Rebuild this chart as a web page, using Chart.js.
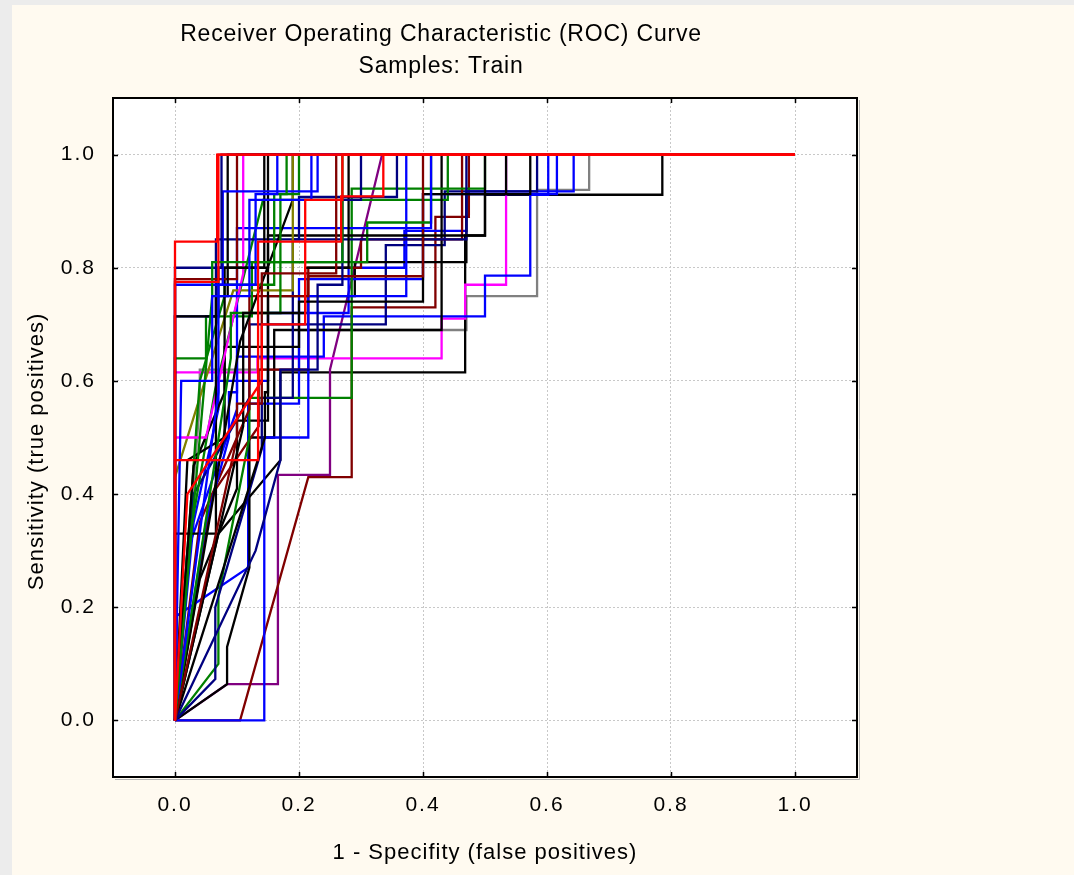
<!DOCTYPE html>
<html>
<head>
<meta charset="utf-8">
<title>ROC Curve</title>
<script src="https://cdn.jsdelivr.net/npm/chart.js@4.4.1/dist/chart.umd.min.js"></script>
<style>
  html, body { margin: 0; padding: 0; }
  body { width: 1074px; height: 875px; background: #ececec; position: relative; overflow: hidden; }
  #panel { position: absolute; left: 12px; top: 5px; right: 0; bottom: 0; background: #fffaf0; }
  #roc { position: absolute; left: 0; top: 0; }
</style>
</head>
<body>
<div id="panel"></div>
<canvas id="roc" width="1074" height="875"></canvas>
<script>
// one ROC curve per model, listed bottom layer first (the last one ends up on top)
const rocColors = [
  '#808080', '#000000', '#800080', '#800000', '#ff00ff', '#0000ff', '#0000ff', '#000080',
  '#000000', '#008000', '#0000ff', '#000000', '#800000', '#008000', '#0000ff', '#000080',
  '#000000', '#800000', '#008000', '#000000', '#0000ff', '#000080', '#000000', '#808000',
  '#008000', '#000000', '#ff00ff', '#800000', '#000000', '#000000', '#0000ff', '#000080',
  '#008000', '#0000ff', '#000000', '#000080', '#800000', '#008000', '#0000ff', '#ff0000',
  '#ff0000', '#ff0000', '#ff0000'
];

// false positive rate (1 - specificity) of each curve
const rocFpr = [
  [0, 0.04, 0.04, 0.2, 0.2, 0.47, 0.47, 0.584, 0.584, 0.668, 0.668, 1],
  [0, 0.07, 0.17, 0.17, 0.468, 0.468, 0.5, 0.5, 0.786, 0.786, 1],
  [0, 0.084, 0.166, 0.166, 0.25, 0.25, 0.334, 1],
  [0, 0.105, 0.215, 0.285, 0.285, 0.42, 0.42, 0.474, 0.474, 1],
  [0, 0, 0.133, 0.133, 0.43, 0.43, 0.468, 0.468, 0.534, 0.534, 1],
  [0, 0.02, 0.1, 0.1, 0.24, 0.24, 0.5, 0.5, 0.573, 0.573, 0.602, 0.602, 1],
  [0, 0.03, 0.07, 0.07, 0.15, 0.15, 0.28, 0.28, 0.37, 0.37, 0.47, 0.47, 0.643, 0.643, 1],
  [0, 0.03, 0.12, 0.12, 0.34, 0.34, 0.435, 0.435, 0.584, 0.584, 1],
  [0, 0.04, 0.1, 0.1, 0.15, 0.15, 0.29, 0.29, 0.47, 0.47, 0.534, 0.534, 1],
  [0, 0.02, 0.065, 0.142, 0.44, 0.44, 1],
  [0, 0.003, 0.118, 0.118, 0.2, 0.2, 0.4, 0.4, 0.616, 0.616, 1],
  [0, 0.084, 0.084, 0.12, 0.12, 0.16, 0.16, 0.43, 0.43, 1],
  [0, 0.06, 0.135, 0.135, 0.215, 0.215, 0.3, 0.3, 0.463, 0.463, 1],
  [0, 0.07, 0.07, 0.12, 0.12, 0.285, 0.285, 0.5, 0.5, 1],
  [0, 0.144, 0.144, 0.215, 0.215, 0.373, 0.373, 1],
  [0, 0.065, 0.065, 0.14, 0.14, 0.19, 0.19, 0.47, 0.47, 1],
  [0, 0.02, 0.08, 0.08, 0.2, 0.2, 0.4, 0.4, 0.573, 0.573, 1],
  [0, 0.04, 0.12, 0.12, 0.215, 0.215, 0.4, 0.4, 1],
  [0, 0, 0.05, 0.05, 0.124, 0.124, 0.31, 0.31, 0.413, 0.413, 1],
  [0, 0.145, 0.145, 0.15, 0.15, 0.5, 0.5, 1],
  [0, 0.05, 0.087, 0.087, 0.1, 0.1, 0.413, 0.413, 1],
  [0, 0, 0.066, 0.066, 0.2, 0.2, 0.358, 0.358, 1],
  [0, 0.105, 0.19, 0.19, 1],
  [0, 0, 0.094, 0.19, 0.19, 1],
  [0, 0.04, 0.08, 0.08, 0.16, 0.16, 0.2, 0.2, 1],
  [0, 0.03, 0.08, 0.08, 0.144, 0.144, 1],
  [0, 0, 0.05, 0.11, 0.11, 1],
  [0, 0, 0.1, 0.1, 1],
  [0, 0, 0.066, 0.066, 0.085, 0.085, 1],
  [0, 0, 0.07, 0.07, 0.15, 0.15, 1],
  [0, 0, 0.077, 0.077, 0.23, 0.23, 1],
  [0, 0, 0.075, 0.075, 1],
  [0, 0.09, 0.09, 0.17, 0.17, 0.18, 0.18, 1],
  [0, 0.07, 0.07, 0.13, 0.13, 0.165, 0.165, 1],
  [0, 0.11, 0.11, 0.21, 0.21, 0.28, 0.28, 1],
  [0, 0.13, 0.17, 0.17, 0.23, 0.23, 0.27, 0.27, 0.3, 0.3, 1],
  [0, 0.1, 0.1, 0.14, 0.14, 0.26, 0.26, 1],
  [0, 0.06, 0.06, 0.27, 0.27, 1],
  [0, 0.01, 0.06, 0.06, 0.12, 0.12, 0.22, 0.22, 1],
  [0, 0.02, 0.14, 0.14, 0.21, 0.21, 0.27, 0.27, 1],
  [0, 0, 0.07, 0.07, 1],
  [0, 0, 0.134, 0.134, 0.268, 0.268, 0.336, 0.336, 1],
  [0, 0, 0.068, 0.068, 1]
];

// true positive rate (sensitivity) of each curve
const rocTpr = [
  [0, 0.56, 0.62, 0.62, 0.69, 0.69, 0.75, 0.75, 0.9375, 0.9375, 1, 1],
  [0, 0.33, 0.46, 0.615, 0.615, 0.857, 0.857, 0.929, 0.929, 1, 1],
  [0, 0.064, 0.064, 0.434, 0.434, 0.62, 1, 1],
  [0, 0, 0.43, 0.43, 0.73, 0.73, 0.89, 0.89, 1, 1],
  [0, 0.615, 0.615, 0.64, 0.64, 0.71, 0.71, 0.77, 0.77, 1, 1],
  [0, 0.3, 0.55, 0.643, 0.643, 0.714, 0.714, 0.786, 0.786, 0.929, 0.929, 1, 1],
  [0, 0.35, 0.55, 0.6, 0.6, 0.72, 0.72, 0.8, 0.8, 0.865, 0.865, 0.935, 0.935, 1, 1],
  [0, 0.4, 0.57, 0.7, 0.7, 0.84, 0.84, 0.935, 0.935, 1, 1],
  [0, 0.25, 0.41, 0.53, 0.53, 0.75, 0.75, 0.81, 0.81, 0.93, 0.93, 1, 1],
  [0, 0.3, 0.586, 0.92, 0.92, 1, 1],
  [0, 0.185, 0.27, 0.56, 0.56, 0.78, 0.78, 0.93, 0.93, 1, 1],
  [0, 0.064, 0.13, 0.27, 0.5, 0.5, 0.69, 0.69, 1, 1],
  [0, 0.4, 0.52, 0.62, 0.62, 0.8, 0.8, 0.85, 0.85, 1, 1],
  [0, 0.1, 0.22, 0.5, 0.57, 0.57, 0.94, 0.94, 1, 1],
  [0, 0, 0.5, 0.5, 0.75, 0.75, 1, 1],
  [0, 0.073, 0.2, 0.48, 0.57, 0.57, 0.85, 0.85, 1, 1],
  [0, 0.46, 0.5, 0.66, 0.66, 0.74, 0.74, 0.93, 0.93, 1, 1],
  [0, 0.35, 0.55, 0.75, 0.75, 0.785, 0.785, 1, 1],
  [0, 0.64, 0.64, 0.714, 0.714, 0.81, 0.81, 0.88, 0.88, 1, 1],
  [0, 0.5, 0.58, 0.58, 0.857, 0.857, 1, 1],
  [0, 0.35, 0.5, 0.58, 0.58, 0.87, 0.87, 1, 1],
  [0, 0.714, 0.714, 0.85, 0.85, 0.925, 0.925, 1, 1],
  [0, 0.67, 0.92, 1, 1],
  [0, 0.43, 0.76, 0.76, 1, 1],
  [0, 0.6, 0.75, 0.77, 0.77, 0.93, 0.93, 1, 1],
  [0, 0.45, 0.58, 0.8, 0.8, 1, 1],
  [0, 0.5, 0.5, 0.79, 1, 1],
  [0, 0.78, 0.78, 1, 1],
  [0, 0.33, 0.33, 0.75, 0.75, 1, 1],
  [0, 0.714, 0.714, 0.8, 0.8, 1, 1],
  [0, 0.77, 0.77, 0.935, 0.935, 1, 1],
  [0, 0.8, 0.8, 1, 1],
  [0, 0.64, 0.72, 0.72, 0.93, 0.93, 1, 1],
  [0, 0.58, 0.77, 0.77, 0.93, 0.93, 1, 1],
  [0, 0.52, 0.72, 0.72, 0.8, 0.8, 1, 1],
  [0, 0.3, 0.46, 0.62, 0.62, 0.77, 0.77, 0.92, 0.92, 1, 1],
  [0, 0.5, 0.56, 0.56, 0.79, 0.79, 1, 1],
  [0, 0.75, 0.81, 0.81, 1, 1],
  [0, 0.6, 0.6, 0.75, 0.75, 0.92, 0.92, 1, 1],
  [0, 0.4, 0.6, 0.7, 0.7, 0.92, 0.92, 1, 1],
  [0, 0.775, 0.775, 1, 1],
  [0, 0.46, 0.46, 0.846, 0.846, 0.926, 0.926, 1, 1],
  [0, 0.846, 0.846, 1, 1]
];

const xTicks = [0, 0.2, 0.4, 0.6, 0.8, 1.0];
const yTicks = [0, 0.2, 0.4, 0.6, 0.8, 1.0];

const chartTitle = ['Receiver Operating Characteristic (ROC) Curve', 'Samples: Train'];
const xTitle = '1 - Specifity (false positives)';
const yTitle = 'Sensitivity (true positives)';

const FONT = '"Liberation Sans", Arial, sans-serif';
Chart.defaults.font.family = FONT;
Chart.defaults.color = '#000';

// white plot background, framed box with inward ticks, title and axis captions
const framePlugin = {
  id: 'frame',
  beforeDraw(chart) {
    const { ctx, chartArea: a } = chart;
    ctx.letterSpacing = '2px';   // picked up by the tick labels
    ctx.save();
    ctx.fillStyle = '#ffffff';
    ctx.fillRect(a.left, a.top, a.right - a.left, a.bottom - a.top);
    ctx.restore();
  },
  afterDraw(chart) {
    const { ctx, chartArea: a, scales } = chart;
    ctx.save();
    ctx.strokeStyle = '#000';
    ctx.lineWidth = 1.5;
    ctx.beginPath();
    xTicks.forEach(v => {
      const px = Math.round(scales.x.getPixelForValue(v)) + 0.5;
      ctx.moveTo(px, a.top); ctx.lineTo(px, a.top + 5);
      ctx.moveTo(px, a.bottom); ctx.lineTo(px, a.bottom - 5);
    });
    yTicks.forEach(v => {
      const py = Math.round(scales.y.getPixelForValue(v)) + 0.5;
      ctx.moveTo(a.left, py); ctx.lineTo(a.left + 5, py);
      ctx.moveTo(a.right, py); ctx.lineTo(a.right - 5, py);
    });
    ctx.stroke();

    // soft grey shade along the right and bottom edges, then the black frame
    ctx.strokeStyle = '#b4b4b4';
    ctx.lineWidth = 1;
    ctx.beginPath();
    ctx.moveTo(a.right + 2.5, a.top + 2);
    ctx.lineTo(a.right + 2.5, a.bottom + 2.5);
    ctx.lineTo(a.left + 2, a.bottom + 2.5);
    ctx.stroke();
    ctx.strokeStyle = '#000';
    ctx.lineWidth = 2;
    ctx.strokeRect(a.left, a.top, a.right - a.left, a.bottom - a.top);

    ctx.fillStyle = '#000';
    ctx.textAlign = 'center';
    ctx.textBaseline = 'middle';

    // two-line chart title
    ctx.font = '23px ' + FONT;
    ctx.letterSpacing = '0.8px';
    ctx.fillText(chartTitle[0], a.left + 328, 35);
    ctx.fillText(chartTitle[1], a.left + 328, 67);

    // axis captions
    ctx.font = '22px ' + FONT;
    ctx.letterSpacing = '1px';
    ctx.fillText(xTitle, (a.left + a.right) / 2, a.bottom + 76);
    ctx.translate(a.left - 76, (a.top + a.bottom) / 2 + 14);
    ctx.rotate(-Math.PI / 2);
    ctx.fillText(yTitle, 0, 0);
    ctx.restore();
  }
};

// Chart.js paints the first dataset last, so reverse to keep the list order as layer order
const datasets = rocFpr.map((xs, i) => ({
  data: xs.map((x, j) => ({ x: x, y: rocTpr[i][j] })),
  showLine: true,
  borderColor: rocColors[i],
  borderWidth: 2.3,
  pointRadius: 0,
  tension: 0,
  fill: false
})).reverse();

new Chart(document.getElementById('roc'), {
  type: 'scatter',
  data: { datasets: datasets },
  plugins: [framePlugin],
  options: {
    responsive: false,
    animation: false,
    events: [],
    layout: { padding: { top: 98, left: 25, right: 217, bottom: 0 } },
    plugins: {
      legend: { display: false },
      tooltip: { enabled: false },
      title: { display: false }
    },
    scales: {
      x: {
        type: 'linear',
        min: -0.1,
        max: 1.1,
        afterBuildTicks: s => { s.ticks = xTicks.map(v => ({ value: v })); },
        afterFit: s => { s.height = 98; },
        grid: { color: '#c8c8c8', lineWidth: 1, drawTicks: false },
        border: { display: false, dash: [2, 2] },
        ticks: { autoSkip: false, maxRotation: 0, padding: 16, font: { size: 21 }, callback: v => v.toFixed(1) }
      },
      y: {
        type: 'linear',
        min: -0.1,
        max: 1.1,
        afterBuildTicks: s => { s.ticks = yTicks.map(v => ({ value: v })); },
        afterFit: s => { s.width = 88; },
        grid: { color: '#c8c8c8', lineWidth: 1, drawTicks: false },
        border: { display: false, dash: [2, 2] },
        ticks: { autoSkip: false, padding: 17, font: { size: 21 }, callback: v => v.toFixed(1) }
      }
    }
  }
});
</script>
</body>
</html>
